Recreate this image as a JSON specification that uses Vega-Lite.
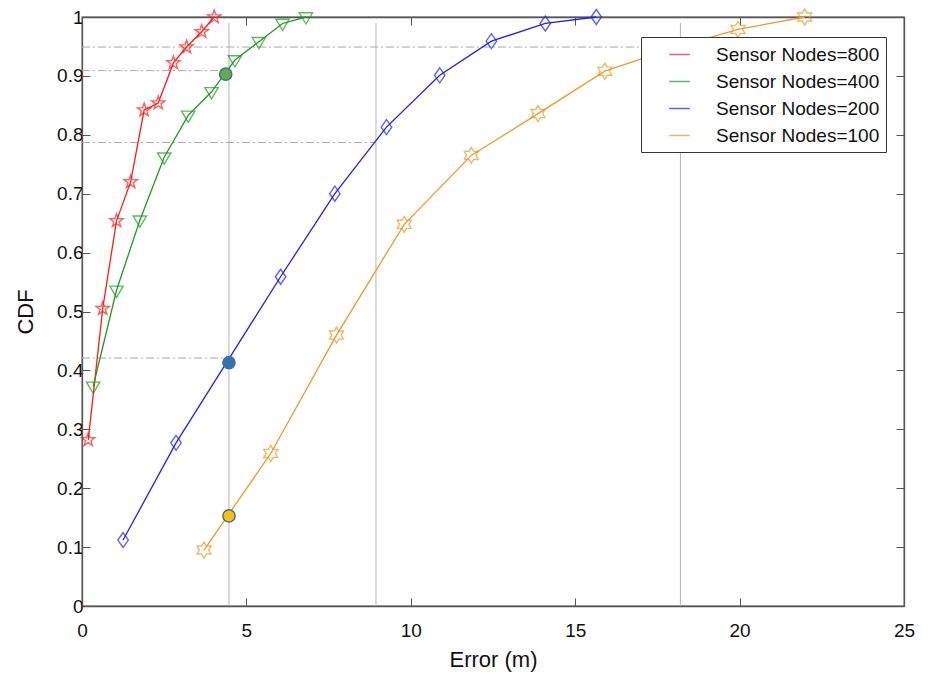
{
  "$schema": "https://vega.github.io/schema/vega-lite/v6.json",
  "width": 822,
  "height": 589,
  "autosize": {"type": "none"},
  "padding": {"left": 82, "top": 17, "right": 29, "bottom": 70},
  "background": "white",
  "config": {
    "view": {"stroke": "#555555", "strokeWidth": 1.3},
    "font": "Liberation Sans",
    "axis": {
      "grid": false,
      "domainColor": "#555555",
      "domainWidth": 1.3,
      "tickColor": "#555555",
      "tickWidth": 1,
      "labelFlush": false,
      "labelFont": "Liberation Sans",
      "labelFontSize": 19,
      "labelColor": "#111111",
      "titleFont": "Liberation Sans",
      "titleFontSize": 22,
      "titleFontWeight": "normal",
      "titleColor": "#111111"
    }
  },
  "datasets": {
    "series": [
      {"s": "Sensor Nodes=800", "x": 0.19, "y": 0.282},
      {"s": "Sensor Nodes=800", "x": 0.63, "y": 0.505},
      {"s": "Sensor Nodes=800", "x": 1.05, "y": 0.654},
      {"s": "Sensor Nodes=800", "x": 1.48, "y": 0.72},
      {"s": "Sensor Nodes=800", "x": 1.89, "y": 0.842},
      {"s": "Sensor Nodes=800", "x": 2.32, "y": 0.854},
      {"s": "Sensor Nodes=800", "x": 2.78, "y": 0.922},
      {"s": "Sensor Nodes=800", "x": 3.18, "y": 0.949},
      {"s": "Sensor Nodes=800", "x": 3.64, "y": 0.975},
      {"s": "Sensor Nodes=800", "x": 4.02, "y": 1.0},
      {"s": "Sensor Nodes=400", "x": 0.34, "y": 0.373},
      {"s": "Sensor Nodes=400", "x": 1.05, "y": 0.536},
      {"s": "Sensor Nodes=400", "x": 1.76, "y": 0.655},
      {"s": "Sensor Nodes=400", "x": 2.5, "y": 0.762},
      {"s": "Sensor Nodes=400", "x": 3.23, "y": 0.833},
      {"s": "Sensor Nodes=400", "x": 3.94, "y": 0.873},
      {"s": "Sensor Nodes=400", "x": 4.65, "y": 0.927},
      {"s": "Sensor Nodes=400", "x": 5.38, "y": 0.958},
      {"s": "Sensor Nodes=400", "x": 6.1, "y": 0.989},
      {"s": "Sensor Nodes=400", "x": 6.81, "y": 1.0},
      {"s": "Sensor Nodes=200", "x": 1.25, "y": 0.112},
      {"s": "Sensor Nodes=200", "x": 2.86, "y": 0.277},
      {"s": "Sensor Nodes=200", "x": 6.04, "y": 0.559},
      {"s": "Sensor Nodes=200", "x": 7.69, "y": 0.7},
      {"s": "Sensor Nodes=200", "x": 9.26, "y": 0.813},
      {"s": "Sensor Nodes=200", "x": 10.88, "y": 0.901},
      {"s": "Sensor Nodes=200", "x": 12.45, "y": 0.959},
      {"s": "Sensor Nodes=200", "x": 14.09, "y": 0.989},
      {"s": "Sensor Nodes=200", "x": 15.64, "y": 1.0},
      {"s": "Sensor Nodes=100", "x": 3.71, "y": 0.095},
      {"s": "Sensor Nodes=100", "x": 5.74, "y": 0.259},
      {"s": "Sensor Nodes=100", "x": 7.74, "y": 0.46},
      {"s": "Sensor Nodes=100", "x": 9.8, "y": 0.648},
      {"s": "Sensor Nodes=100", "x": 11.84, "y": 0.765},
      {"s": "Sensor Nodes=100", "x": 13.87, "y": 0.836},
      {"s": "Sensor Nodes=100", "x": 15.9, "y": 0.908},
      {"s": "Sensor Nodes=100", "x": 17.92, "y": 0.946},
      {"s": "Sensor Nodes=100", "x": 19.95, "y": 0.979},
      {"s": "Sensor Nodes=100", "x": 21.98, "y": 1.0}
    ],
    "vlines": [{"x": 4.47, "ylo": 0, "yhi": 0.99}, {"x": 8.94, "ylo": 0, "yhi": 0.99}, {"x": 18.2, "ylo": 0, "yhi": 0.99}],
    "hlines": [
      {"y": 0.949, "xstart": 0, "xend": 18.2},
      {"y": 0.909, "xstart": 0, "xend": 4.47},
      {"y": 0.787, "xstart": 0, "xend": 8.94},
      {"y": 0.421, "xstart": 0, "xend": 4.47}
    ],
    "dots": [
      {"x": 4.37, "y": 0.903, "c": "g"},
      {"x": 4.47, "y": 0.413, "c": "b"},
      {"x": 4.47, "y": 0.153, "c": "o"}
    ]
  },
  "layer": [
    {
      "data": {"name": "vlines"},
      "mark": {"type": "rule", "color": "#b4b4b4", "strokeWidth": 1},
      "encoding": {
        "x": {"field": "x", "type": "quantitative", "scale": {"domain": [0, 25], "nice": false, "zero": false},
          "axis": {"orient": "top", "values": [0, 5, 10, 15, 20, 25], "labels": false, "title": null, "tickSize": -8}},
        "y": {"field": "ylo", "type": "quantitative", "scale": {"domain": [0, 1], "nice": false},
          "axis": {"orient": "right", "values": [0, 0.1, 0.2, 0.3, 0.4, 0.5, 0.6, 0.7, 0.8, 0.9, 1], "labels": false, "title": null, "tickSize": -8}},
        "y2": {"field": "yhi"}
      }
    },
    {
      "data": {"name": "hlines"},
      "mark": {"type": "rule", "color": "#aaaaaa", "strokeWidth": 1, "strokeDash": [8, 3, 2, 3]},
      "encoding": {
        "x": {"field": "xstart", "type": "quantitative", "axis": null},
        "x2": {"field": "xend"},
        "y": {"field": "y", "type": "quantitative", "axis": null}
      }
    },
    {
      "data": {"name": "series"},
      "transform": [{"filter": "datum.s === 'Sensor Nodes=800'"}],
      "mark": {"type": "line", "strokeWidth": 1.3, "color": "#ff1a1a"},
      "encoding": {
        "x": {"field": "x", "type": "quantitative",
          "axis": {"orient": "bottom", "values": [0, 5, 10, 15, 20, 25], "title": "Error (m)", "tickSize": -8, "labelPadding": 23, "titlePadding": 9}},
        "y": {"field": "y", "type": "quantitative",
          "axis": {"orient": "left", "values": [0, 0.1, 0.2, 0.3, 0.4, 0.5, 0.6, 0.7, 0.8, 0.9, 1], "format": "~g", "title": "CDF", "tickSize": -8, "labelPadding": 7, "titlePadding": 19}},
        "order": {"field": "x", "type": "quantitative"}
      }
    },
    {
      "data": {"name": "series"},
      "transform": [{"filter": "datum.s === 'Sensor Nodes=400'"}],
      "mark": {"type": "line", "strokeWidth": 1.3, "color": "#1f9a1f"},
      "encoding": {
        "x": {"field": "x", "type": "quantitative", "axis": null},
        "y": {"field": "y", "type": "quantitative", "axis": null},
        "order": {"field": "x", "type": "quantitative"}
      }
    },
    {
      "data": {"name": "series"},
      "transform": [{"filter": "datum.s === 'Sensor Nodes=200'"}],
      "mark": {"type": "line", "strokeWidth": 1.3, "color": "#1f1fff"},
      "encoding": {
        "x": {"field": "x", "type": "quantitative", "axis": null},
        "y": {"field": "y", "type": "quantitative", "axis": null},
        "order": {"field": "x", "type": "quantitative"}
      }
    },
    {
      "data": {"name": "series"},
      "transform": [{"filter": "datum.s === 'Sensor Nodes=100'"}],
      "mark": {"type": "line", "strokeWidth": 1.3, "color": "#ec9a2a"},
      "encoding": {
        "x": {"field": "x", "type": "quantitative", "axis": null},
        "y": {"field": "y", "type": "quantitative", "axis": null},
        "order": {"field": "x", "type": "quantitative"}
      }
    },
    {
      "data": {"name": "series"},
      "transform": [{"filter": "datum.s === 'Sensor Nodes=800'"}],
      "mark": {"type": "point", "filled": false, "size": 196, "strokeWidth": 1.4,
        "shape": "M0,-1L0.235,-0.324L0.951,-0.309L0.38,0.124L0.588,0.809L0,0.4L-0.588,0.809L-0.38,0.124L-0.951,-0.309L-0.235,-0.324Z"},
      "encoding": {
        "x": {"field": "x", "type": "quantitative", "axis": null},
        "y": {"field": "y", "type": "quantitative", "axis": null},
        "color": {"field": "s", "type": "nominal",
          "scale": {"domain": ["Sensor Nodes=800", "Sensor Nodes=400", "Sensor Nodes=200", "Sensor Nodes=100"], "range": ["#ff1a1a", "#1f9a1f", "#1f1fff", "#ec9a2a"]},
          "legend": {
            "title": null,
            "orient": "none",
            "legendX": 559,
            "legendY": 20,
            "fillColor": "white",
            "strokeColor": "#333333",
            "padding": 6,
            "symbolType": "stroke",
            "symbolSize": 430,
            "symbolOffset": 21,
            "symbolStrokeWidth": 1.5,
            "labelFont": "Liberation Sans",
            "labelFontSize": 19,
            "labelColor": "#111111",
            "labelOffset": 25,
            "labelLimit": 400,
            "rowPadding": 5
          }
        }
      }
    },
    {
      "data": {"name": "series"},
      "transform": [{"filter": "datum.s === 'Sensor Nodes=400'"}],
      "mark": {"type": "point", "filled": false, "size": 196, "strokeWidth": 1.4,
        "shape": "M-0.95,-0.6L0.95,-0.6L0,1Z"},
      "encoding": {
        "x": {"field": "x", "type": "quantitative", "axis": null},
        "y": {"field": "y", "type": "quantitative", "axis": null},
        "color": {"field": "s", "type": "nominal"}
      }
    },
    {
      "data": {"name": "series"},
      "transform": [{"filter": "datum.s === 'Sensor Nodes=200'"}],
      "mark": {"type": "point", "filled": false, "size": 196, "strokeWidth": 1.4,
        "shape": "M0,-1.07L0.75,0L0,1.07L-0.75,0Z"},
      "encoding": {
        "x": {"field": "x", "type": "quantitative", "axis": null},
        "y": {"field": "y", "type": "quantitative", "axis": null},
        "color": {"field": "s", "type": "nominal"}
      }
    },
    {
      "data": {"name": "series"},
      "transform": [{"filter": "datum.s === 'Sensor Nodes=100'"}],
      "mark": {"type": "point", "filled": false, "size": 196, "strokeWidth": 1.4,
        "shape": "M0,-1.15L0.332,-0.575L0.996,-0.575L0.664,0L0.996,0.575L0.332,0.575L0,1.15L-0.332,0.575L-0.996,0.575L-0.664,0L-0.996,-0.575L-0.332,-0.575Z"},
      "encoding": {
        "x": {"field": "x", "type": "quantitative", "axis": null},
        "y": {"field": "y", "type": "quantitative", "axis": null},
        "color": {"field": "s", "type": "nominal"}
      }
    },
    {
      "data": {"name": "dots"},
      "mark": {"type": "point", "filled": true, "opacity": 1, "size": 150, "shape": "circle", "stroke": "#41719c", "strokeWidth": 1.5},
      "encoding": {
        "x": {"field": "x", "type": "quantitative", "axis": null},
        "y": {"field": "y", "type": "quantitative", "axis": null},
        "fill": {
          "field": "c", "type": "nominal",
          "scale": {"domain": ["g", "b", "o"], "range": ["#6aaa46", "#2e75b6", "#ffc000"]},
          "legend": null
        }
      }
    }
  ],
  "resolve": {"axis": {"x": "independent", "y": "independent"}}
}
